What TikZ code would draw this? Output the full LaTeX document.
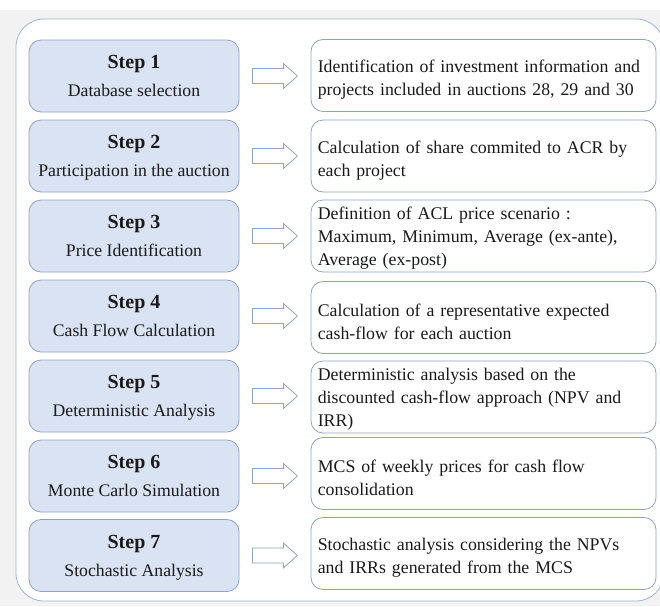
\documentclass[tikz,border=0pt]{standalone}
\usepackage{fontspec}
\setmainfont{Liberation Serif}
\usetikzlibrary{calc}
\definecolor{bgray}{HTML}{F2F2F2}
\definecolor{lfill}{HTML}{DAE3F3}
\definecolor{bline}{HTML}{8EA3C6}
\definecolor{fline}{HTML}{A3B3D0}
\definecolor{txt}{HTML}{1A1A1A}
\begin{document}
\begin{tikzpicture}[x=1pt,y=-1pt,
  stepbox/.style={draw=bline, line width=0.8pt, fill=lfill, rounded corners=12pt,
    minimum width=210pt, minimum height=72pt, inner sep=0pt, align=center,
    text=txt, font=\fontsize{17.7}{28}\selectfont, text depth=0pt},
  descbox/.style={draw=bline, line width=0.8pt, fill=white, rounded corners=12pt,
    minimum width=345pt, minimum height=72pt, inner sep=0pt},
  desctext/.style={inner sep=0pt, text width=331pt, align=left, text=txt,
    font=\fontsize{17.8}{23}\selectfont, anchor=west},
  blockarrow/.style={draw=bline, line width=0.8pt, fill=white, line join=miter}]
\useasboundingbox (0,0) rectangle (660,606);
\clip (0,0) rectangle (660,606);
\fill[white] (0,0) rectangle (660,606);
\fill[bgray] (0,10) rectangle (660,606);
\draw[fline, line width=0.8pt, fill=white, rounded corners=28pt] (16,19) rectangle (664,601);

\node[stepbox] (s1) at (134,76) {{\fontsize{20}{24}\selectfont\bfseries Step 1}\\Database selection};
\node[stepbox] (s2) at (134,156) {{\fontsize{20}{24}\selectfont\bfseries Step 2}\\Participation in the auction};
\node[stepbox] (s3) at (134,236) {{\fontsize{20}{24}\selectfont\bfseries Step 3}\\Price Identification};
\node[stepbox] (s4) at (134,316) {{\fontsize{20}{24}\selectfont\bfseries Step 4}\\Cash Flow Calculation};
\node[stepbox] (s5) at (134,396) {{\fontsize{20}{24}\selectfont\bfseries Step 5}\\Deterministic Analysis};
\node[stepbox] (s6) at (134,476) {{\fontsize{20}{24}\selectfont\bfseries Step 6}\\Monte Carlo Simulation};
\node[stepbox] (s7) at (134,555.5) {{\fontsize{20}{24}\selectfont\bfseries Step 7}\\Stochastic Analysis};

\node[descbox] (d1) at (483.5,75.5) {};
\node[descbox] (d2) at (483.5,156) {};
\node[descbox] (d3) at (483.5,236) {};
\node[descbox] (d4) at (483.5,317.5) {};
\node[descbox] (d5) at (483.5,397) {};
\node[descbox] (d6) at (483.5,473.5) {};
\node[descbox] (d7) at (483.5,553.5) {};

\node[desctext] (t1) at ($(d1.west)+(7,4.5)$) {\mbox{Identification of investment information and}\\\mbox{projects included in auctions 28, 29 and 30}};
\node[desctext] (t2) at ($(d2.west)+(7,4.5)$) {\mbox{Calculation of share commited to ACR by}\\\mbox{each project}};
\node[desctext] (t3) at ($(d3.west)+(7,2)$) {\mbox{Definition of ACL price scenario :}\\\mbox{Maximum, Minimum, Average (ex-ante),}\\\mbox{Average (ex-post)}};
\node[desctext] (t4) at ($(d4.west)+(7,4)$) {\mbox{Calculation of a representative expected}\\\mbox{cash-flow for each auction}};
\node[desctext] (t5) at ($(d5.west)+(7,2)$) {\mbox{Deterministic analysis based on the}\\\mbox{discounted cash-flow approach (NPV and}\\\mbox{IRR)}};
\node[desctext] (t6) at ($(d6.west)+(7,4)$) {\mbox{MCS of weekly prices for cash flow}\\\mbox{consolidation}};
\node[desctext] (t7) at ($(d7.west)+(7,4)$) {\mbox{Stochastic analysis considering the NPVs}\\\mbox{and IRRs generated from the MCS}};

\foreach \i in {1,...,7} {
  \coordinate (a\i) at ($(s\i.east)+(13,0)$);
  \draw[blockarrow] (a\i) ++(0,-7.5) -- ++(31,0) -- ++(0,-5) -- ++(14,12.5)
     -- ++(-14,12.5) -- ++(0,-5) -- ++(-31,0) -- cycle;
}
\end{tikzpicture}
\end{document}
